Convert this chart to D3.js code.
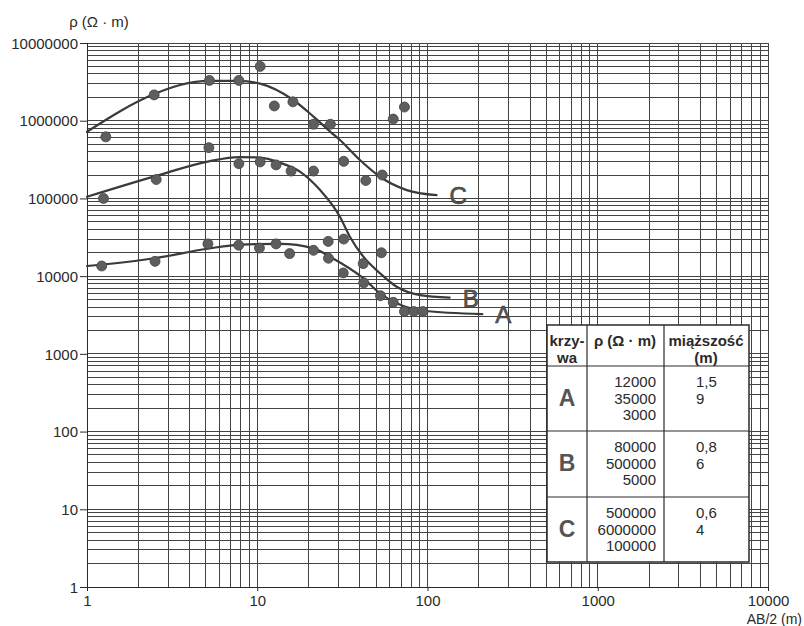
<!DOCTYPE html>
<html>
<head>
<meta charset="utf-8">
<script src="https://cdn.jsdelivr.net/npm/d3@7"></script>
<style>
  body { margin: 0; background: #fff; }
  svg { font-family: "Liberation Sans", Arial, sans-serif; }
</style>
</head>
<body>
<svg width="804" height="626"></svg>
<script>
// tick values
var xTicks = [1, 10, 100, 1000, 10000];
var yTicks = [1, 10, 100, 1000, 10000, 100000, 1000000, 10000000];

// fitted curves
var curveA = [
  {x: 1, y: 13500}, {x: 2.5, y: 17000}, {x: 5.1, y: 22500}, {x: 8, y: 25500},
  {x: 13.6, y: 26000}, {x: 21.4, y: 22800}, {x: 26.7, y: 17800}, {x: 42, y: 9400},
  {x: 52.6, y: 6000}, {x: 65.9, y: 4470}, {x: 94.5, y: 3590}, {x: 210, y: 3250}
];
var curveB = [
  {x: 1, y: 105000}, {x: 2.55, y: 195000}, {x: 5.2, y: 300000}, {x: 7.8, y: 340000},
  {x: 10.4, y: 335000}, {x: 13.6, y: 288000}, {x: 17.8, y: 221000}, {x: 23.4, y: 128000},
  {x: 30.6, y: 58200}, {x: 35, y: 32200}, {x: 42, y: 17800}, {x: 52.6, y: 10900},
  {x: 65.9, y: 7300}, {x: 90.4, y: 5710}, {x: 135, y: 5300}
];
var curveC = [
  {x: 1, y: 720000}, {x: 2.48, y: 2200000}, {x: 3.52, y: 2880000}, {x: 5.24, y: 3250000},
  {x: 7.8, y: 3250000}, {x: 10.4, y: 3000000}, {x: 16.2, y: 1860000}, {x: 21.4, y: 1130000},
  {x: 26.9, y: 720000}, {x: 30.6, y: 565000}, {x: 40.1, y: 312000}, {x: 52.6, y: 190000},
  {x: 75.5, y: 128000}, {x: 113, y: 110000}
];

// measured points
var pointsA = [
  {x: 1.22, y: 13500}, {x: 2.51, y: 15500}, {x: 5.13, y: 26000}, {x: 7.78, y: 25000},
  {x: 10.3, y: 23000}, {x: 12.9, y: 26000}, {x: 15.5, y: 19500}, {x: 21.4, y: 21500},
  {x: 26.2, y: 17000}, {x: 32, y: 11000}, {x: 42.2, y: 8200}, {x: 52.9, y: 5600},
  {x: 62.9, y: 4600}, {x: 73.2, y: 3500}, {x: 83.1, y: 3500}, {x: 94, y: 3500}
];
var pointsB = [
  {x: 1.25, y: 100000}, {x: 2.55, y: 175000}, {x: 5.2, y: 450000}, {x: 7.8, y: 280000},
  {x: 10.4, y: 295000}, {x: 12.9, y: 270000}, {x: 15.8, y: 225000}, {x: 21.4, y: 225000},
  {x: 26.1, y: 28000}, {x: 32.2, y: 30000}, {x: 41.9, y: 14500}, {x: 53.6, y: 20000}
];
var pointsC = [
  {x: 1.29, y: 620000}, {x: 2.48, y: 2150000}, {x: 5.24, y: 3300000}, {x: 7.8, y: 3300000},
  {x: 10.4, y: 5000000}, {x: 12.6, y: 1550000}, {x: 16.2, y: 1750000}, {x: 21.4, y: 900000},
  {x: 26.9, y: 900000}, {x: 32.2, y: 300000}, {x: 43.4, y: 170000}, {x: 54.2, y: 200000},
  {x: 62.9, y: 1050000}, {x: 73.2, y: 1500000}
];

// table contents
var tableCurves = ["A", "B", "C"];
var tableRho = [["12000", "35000", "3000"], ["80000", "500000", "5000"], ["500000", "6000000", "100000"]];
var tableThick = [["1,5", "9"], ["0,8", "6"], ["0,6", "4"]];

var svg = d3.select("svg");
var ink = "#2a2a2a";

var x = d3.scaleLog().domain([1, 10000]).range([87, 768]);
var y = d3.scaleLog().domain([1, 10000000]).range([587, 43]);

// grid
var xGrid = [], yGrid = [];
for (var k = 0; k < 4; k++) for (var n = 1; n < 10; n++) xGrid.push(n * Math.pow(10, k));
xGrid.push(10000);
for (var k = 0; k < 7; k++) for (var n = 1; n < 10; n++) yGrid.push(n * Math.pow(10, k));
yGrid.push(10000000);

var grid = svg.append("g").attr("shape-rendering", "crispEdges");
grid.selectAll(".vx").data(xGrid).enter().append("line")
  .attr("x1", function(d) { return x(d); }).attr("x2", function(d) { return x(d); })
  .attr("y1", y(10000000)).attr("y2", y(1))
  .attr("stroke", "#444").attr("stroke-width", 1);
grid.selectAll(".hy").data(yGrid).enter().append("line")
  .attr("y1", function(d) { return y(d); }).attr("y2", function(d) { return y(d); })
  .attr("x1", x(1)).attr("x2", x(10000))
  .attr("stroke", "#444").attr("stroke-width", 1);

// axes
var xAxis = svg.append("g")
  .attr("transform", "translate(0," + y(1) + ")")
  .call(d3.axisBottom(x).tickValues(xTicks).tickFormat(d3.format("d")).tickSize(4).tickPadding(2));
var yAxis = svg.append("g")
  .attr("transform", "translate(" + x(1) + ",0)")
  .call(d3.axisLeft(y).tickValues(yTicks).tickFormat(d3.format("d")).tickSize(7).tickPadding(2));
[xAxis, yAxis].forEach(function(a) {
  a.select(".domain").attr("stroke", ink);
  a.selectAll(".tick line").attr("stroke", ink);
  a.selectAll("text").attr("font-size", 15).attr("fill", ink)
    .attr("font-family", "'Liberation Sans', Arial, sans-serif");
});
xAxis.selectAll("text").attr("dy", "0.85em");
yAxis.selectAll("text").attr("dy", "0.35em");

svg.append("text").attr("x", 99).attr("y", 27).attr("text-anchor", "middle")
  .attr("font-size", 15).attr("fill", ink).text("ρ (Ω · m)");
svg.append("text").attr("x", 802).attr("y", 624).attr("text-anchor", "end")
  .attr("font-size", 14).attr("fill", ink).text("AB/2 (m)");

// curves
var line = d3.line().curve(d3.curveMonotoneX)
  .x(function(d) { return x(d.x); })
  .y(function(d) { return y(d.y); });

[curveA, curveB, curveC].forEach(function(c) {
  svg.append("path").datum(c)
    .attr("fill", "none").attr("stroke", "#3a3a3a")
    .attr("stroke-width", 2.2).attr("stroke-linecap", "round")
    .attr("d", line);
});

// dots
var allPoints = pointsA.concat(pointsB, pointsC);
svg.selectAll(".dot").data(allPoints).enter().append("circle")
  .attr("cx", function(d) { return x(d.x); })
  .attr("cy", function(d) { return y(d.y); })
  .attr("r", 5)
  .attr("fill", "#5e5e5e").attr("stroke", "#444").attr("stroke-width", 0.8);

// curve labels
var curveEnds = [curveA, curveB, curveC];
tableCurves.forEach(function(lbl, i) {
  var last = curveEnds[i][curveEnds[i].length - 1];
  svg.append("text")
    .attr("x", x(last.x) + 13).attr("y", y(last.y) + 9)
    .attr("font-size", 24).attr("fill", "#5a5a5a")
    .attr("stroke", "#333").attr("stroke-width", 0.6)
    .text(lbl);
});

// table
var tb = {left: 547, top: 325, right: 749, bottom: 562};
var rowY = [325, 366, 431, 497, 562];
var tg = svg.append("g");
tg.append("rect").attr("x", tb.left).attr("y", tb.top)
  .attr("width", tb.right - tb.left).attr("height", tb.bottom - tb.top)
  .attr("fill", "#fff").attr("stroke", ink).attr("stroke-width", 1.5);
[587, 664].forEach(function(cx) {
  tg.append("line").attr("x1", cx).attr("x2", cx).attr("y1", tb.top).attr("y2", tb.bottom)
    .attr("stroke", ink).attr("stroke-width", 1.2);
});
[366, 431, 497].forEach(function(ry) {
  tg.append("line").attr("x1", tb.left).attr("x2", tb.right).attr("y1", ry).attr("y2", ry)
    .attr("stroke", ink).attr("stroke-width", 1.2);
});

function tx(xp, yp, s, opts) {
  return tg.append("text").attr("x", xp).attr("y", yp)
    .attr("font-size", opts.size || 15)
    .attr("font-weight", opts.bold ? "bold" : "normal")
    .attr("text-anchor", opts.anchor || "start")
    .attr("fill", opts.fill || ink).text(s);
}
tx(567, 346, "krzy-", {bold: true, anchor: "middle"});
tx(567, 363, "wa", {bold: true, anchor: "middle"});
tx(625, 346, "ρ (Ω · m)", {bold: true, anchor: "middle"});
tx(706, 346, "miąższość", {bold: true, anchor: "middle"});
tx(706, 363, "(m)", {bold: true, anchor: "middle"});

tableCurves.forEach(function(lbl, i) {
  var top = rowY[i + 1];
  tx(567, top + 40, lbl, {size: 23, bold: true, anchor: "middle", fill: "#555"});
  tableRho[i].forEach(function(v, j) {
    tx(656, top + 21 + j * 16.5, v, {anchor: "end"});
  });
  tableThick[i].forEach(function(v, j) {
    tx(696, top + 21 + j * 16.5, v, {});
  });
});
</script>
</body>
</html>
